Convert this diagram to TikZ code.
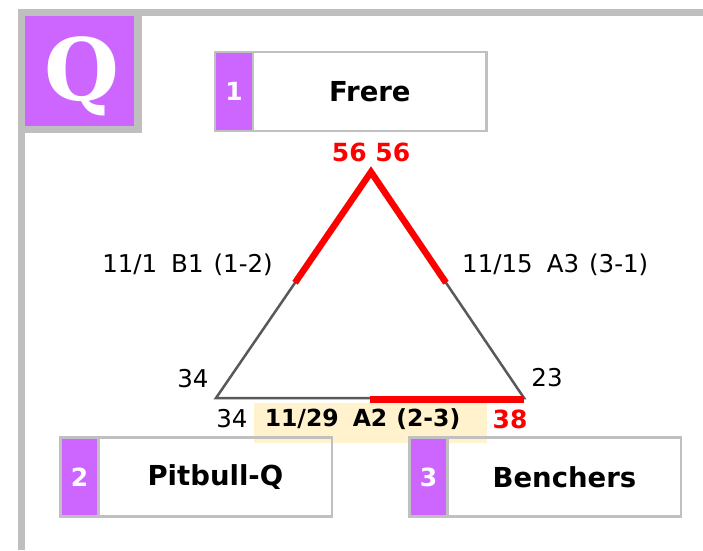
\documentclass[tikz,border=0pt]{standalone}
\usepackage{fontspec}
\usetikzlibrary{calc}
\setmainfont{DejaVu Sans}
\newfontfamily\qfont{DejaVu Serif}
\definecolor{purp}{HTML}{CC66FF}
\definecolor{framegray}{HTML}{BFBFBF}
\definecolor{boxgray}{HTML}{C0C0C0}
\definecolor{band}{HTML}{FFF2CC}
\definecolor{edgegray}{HTML}{595959}
\definecolor{hot}{HTML}{FF0000}
\tikzset{
  numbox/.style={fill=purp, text=white, minimum width=38pt, minimum height=79pt, inner sep=0pt, font=\fontsize{25}{25}\selectfont\bfseries},
  namebox/.style={minimum width=233pt, minimum height=79pt, inner sep=0pt, font=\fontsize{27.5}{27.5}\selectfont\bfseries, anchor=west},
  boxline/.style={draw=boxgray, line width=2.5pt},
  lbl/.style={inner sep=0pt, font=\fontsize{24.5}{24.5}\selectfont},
  redlbl/.style={inner sep=0pt, text=hot, font=\fontsize{25}{25}\selectfont\bfseries},
  edge/.style={draw=edgegray, line width=2.5pt},
  won/.style={draw=hot, line width=6.5pt},
}
\begin{document}
\begin{tikzpicture}[x=1pt, y=-1pt]
\useasboundingbox (0,0) rectangle (703,550);
% frame
\fill[framegray] (18,9) rectangle (703,16);
\fill[framegray] (18,9) rectangle (25,550);
\fill[framegray] (25,16) rectangle (142,133);
\fill[purp] (25,16) rectangle (134,126);
\begin{scope}
\clip (25,16) rectangle (134,126);
\node[text=white, inner sep=0pt, anchor=base, font=\qfont\fontsize{86}{86}\selectfont\bfseries] (qmark) at (82,100) {Q};
\end{scope}
% team boxes
\node[numbox] (n1) at (234,91.5) {1};
\node[namebox] (b1) at (n1.east) {Frere};
\draw[boxline] (n1.north west) rectangle (b1.south east);
\draw[boxline] (n1.north east) -- (n1.south east);
% band
\fill[band] (254,403) rectangle (487,443);
\node[numbox] (n2) at (79.5,477) {2};
\node[namebox] (b2) at (n2.east) {Pitbull-Q};
\draw[boxline] (n2.north west) rectangle (b2.south east);
\draw[boxline] (n2.north east) -- (n2.south east);
\node[numbox] (n3) at (428.5,477) {3};
\node[namebox] (b3) at (n3.east) {Benchers};
\draw[boxline] (n3.north west) rectangle (b3.south east);
\draw[boxline] (n3.north east) -- (n3.south east);
% triangle
\coordinate (pa) at (371,172);
\coordinate (pb) at (216,398);
\coordinate (pc) at (524,398);
\draw[edge, line join=miter] (pa) -- (pb) -- (pc) -- cycle;
\draw[won, line join=miter] ($(pa)!0.49!(pb)$) -- (pa) -- ($(pa)!0.49!(pc)$);
\draw[won] ($(pb)!0.5!(pc)+(0,1.5)$) -- ($(pc)+(0,1.5)$);
% labels
\node[redlbl] (s1) at (371,152) {56 56};
\node[lbl, anchor=east] (g12) at (273,265) {11/1\hspace{14pt}B1\hspace{10pt}(1-2)};
\node[lbl, anchor=west] (g31) at (462,265) {11/15\hspace{14pt}A3\hspace{10pt}(3-1)};
\node[lbl] (s2a) at (193,379) {34};
\node[lbl] (s2b) at (232,419) {34};
\node[lbl] (s3a) at (547,378) {23};
\node[lbl, font=\fontsize{23.5}{23.5}\selectfont\bfseries] (g23) at (362.5,419) {11/29\hspace{14pt}A2\hspace{9pt}(2-3)};
\node[redlbl] (s3b) at (510,419) {38};
\end{tikzpicture}
\end{document}
